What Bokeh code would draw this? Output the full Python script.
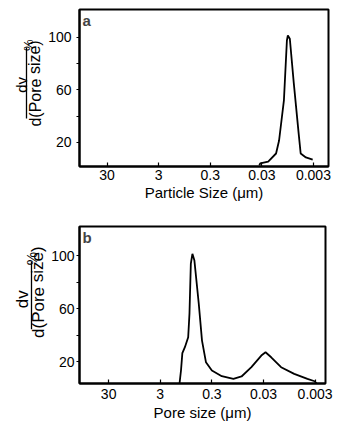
from bokeh.plotting import figure
from bokeh.layouts import column, row
from bokeh.models import Range1d, FixedTicker, Label, Arrow
from bokeh.embed import file_html
from bokeh.resources import INLINE

# ---- data ----
x_ticks = [30, 3, 0.3, 0.03, 0.003]
x_tick_labels = ["30", "3", "0.3", "0.03", "0.003"]
y_ticks = [20, 60, 100]
y_minor_ticks = [40, 80]

# panel a: particle size distribution
a_size = [0.0336, 0.0322, 0.0226, 0.0159, 0.0139, 0.0112, 0.0098, 0.0094,
          0.0086, 0.0072, 0.0058, 0.0053, 0.0042, 0.0031]
a_value = [2.5, 4.0, 5.5, 11.6, 21.5, 52.0, 97.7, 101.5,
           99.0, 65.0, 27.0, 11.6, 8.6, 7.0]

# panel b: pore size distribution
b_size = [1.27, 1.19, 1.12, 1.0, 0.863, 0.815, 0.767, 0.715, 0.654, 0.539,
          0.466, 0.391, 0.300, 0.193, 0.115, 0.080, 0.0515, 0.0331, 0.0274,
          0.0213, 0.0137, 0.00763, 0.00423, 0.00307, 0.00281]
b_value = [3.4, 13.2, 26.3, 30.8, 38.3, 56.2, 93.9, 101.3, 96.2, 63.8,
           35.8, 19.5, 13.2, 8.9, 6.9, 8.7, 15.7, 24.5, 27.0,
           23.2, 15.7, 10.7, 6.9, 5.1, 3.4]

FONT = "Liberation Sans"


def ylabel_panel(width, height, lab, sizes):
    """Narrow figure holding the composite label  dv / d(Pore size) %."""
    q = figure(width=width, height=height, x_range=Range1d(0, width),
               y_range=Range1d(0, height), x_axis_location=None,
               y_axis_location=None, output_backend="svg",
               toolbar_location=None, min_border=0)
    q.outline_line_color = None
    q.grid.visible = False
    q.background_fill_color = "white"
    q.border_fill_color = "white"
    dv_x, dv_y, ln_x, ln_y0, ln_y1, ds_x, ds_y, pc_x, pc_y = lab
    dv_fs, ds_fs, pc_fs = sizes
    common = dict(angle=1.5708, text_font=FONT, text_align="center",
                  text_baseline="middle", text_color="black")
    q.add_layout(Label(x=dv_x, y=dv_y, text="dv", text_font_size=dv_fs, **common))
    q.add_layout(Label(x=ds_x, y=ds_y, text="d(Pore size)", text_font_size=ds_fs, **common))
    q.add_layout(Label(x=pc_x, y=pc_y, text="%", text_font_size=pc_fs, **common))
    q.add_layout(Arrow(end=None, x_start=ln_x, y_start=ln_y0, x_end=ln_x, y_end=ln_y1,
                       line_color="black", line_width=1.3))
    return q


def panel(xs, ys, letter, xlabel, x_range, y_range, width, height, top, bottom,
          left, right, ytick_standoff, tick_standoff, label_standoff):
    p = figure(width=width, height=height, x_axis_type="log",
               x_range=Range1d(*x_range), y_range=Range1d(*y_range),
               output_backend="svg", toolbar_location=None,
               min_border_left=left, min_border_right=right,
               min_border_top=top, min_border_bottom=bottom)
    p.background_fill_color = "white"
    p.border_fill_color = "white"
    p.outline_line_color = "black"
    p.outline_line_width = 2
    p.grid.visible = False

    p.line(xs, ys, line_color="black", line_width=1.8)

    xa = p.xaxis[0]
    xa.ticker = FixedTicker(ticks=x_ticks, minor_ticks=[])
    xa.major_label_overrides = {t: l for t, l in zip(x_ticks, x_tick_labels)}
    xa.major_tick_in = 4
    xa.major_tick_out = 0
    xa.major_tick_line_width = 1.2
    xa.axis_line_width = 2
    xa.major_label_standoff = tick_standoff
    xa.major_label_text_font = FONT
    xa.major_label_text_font_size = "14px"
    xa.major_label_text_color = "black"
    xa.axis_label = xlabel
    xa.axis_label_text_font = FONT
    xa.axis_label_text_font_size = "15px"
    xa.axis_label_text_font_style = "normal"
    xa.axis_label_text_color = "black"
    xa.axis_label_standoff = label_standoff

    ya = p.yaxis[0]
    ya.ticker = FixedTicker(ticks=y_ticks, minor_ticks=y_minor_ticks)
    ya.major_tick_in = 0
    ya.major_tick_out = 3
    ya.minor_tick_in = 0
    ya.minor_tick_out = 3
    ya.major_tick_line_width = 1.2
    ya.minor_tick_line_width = 1.2
    ya.axis_line_width = 2
    ya.major_label_standoff = ytick_standoff
    ya.major_label_text_font = FONT
    ya.major_label_text_font_size = "14px"
    ya.major_label_text_color = "black"

    # panel letter
    p.add_layout(Label(x=3, y=157 - 2, x_units="screen",
                       y_units="screen", text=letter, text_font=FONT,
                       text_font_size="15px", text_font_style="bold",
                       text_baseline="top", text_align="left"))
    return p


# panel a
la = ylabel_panel(45, 206, (21, 107, 26, 156, 63, 34.5, 109, 28, 159),
                  ("15px", "16px", "13px"))
pa = panel(a_size, a_value, "a", "Particle Size (\u03bcm)",
           (103, 0.00153), (1.7, 121.3), 341 - 45, 206, 9, 40, 31, 13, 5, 3, 1)

# panel b
lb = ylabel_panel(48, 220, (22, 118, 31, 171, 76, 37.5, 128, 31, 175),
                  ("17px", "17px", "15px"))
pb = panel(b_size, b_value, "b", "Pore size (\u03bcm)",
           (110, 0.00189), (3.4, 121.9), 341 - 48, 220, 20, 43, 28, 16, 2, 5, 2)

layout = column(row(la, pa, spacing=0), row(lb, pb, spacing=0), spacing=0)
open("out.html", "w").write(file_html(layout, INLINE))
